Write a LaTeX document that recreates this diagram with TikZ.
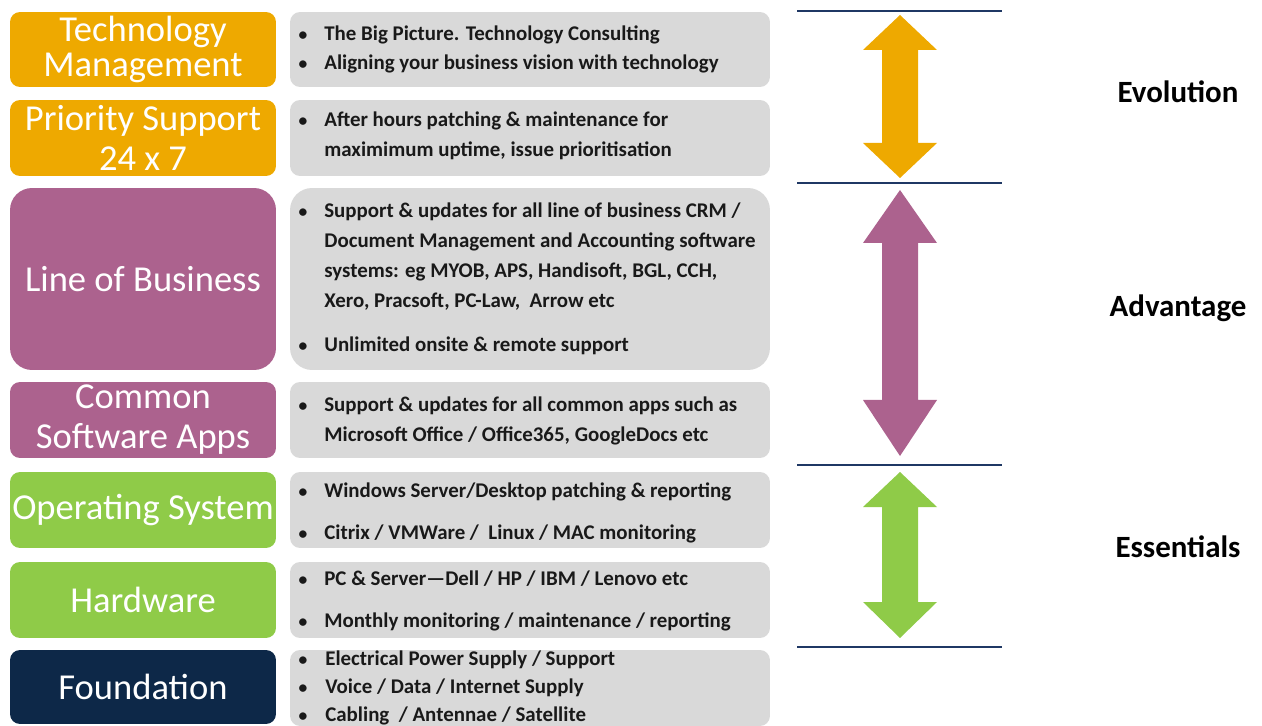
\documentclass[tikz,border=0pt]{standalone}
\usepackage{fontspec}
\setmainfont{Carlito}
\definecolor{cOrange}{RGB}{238,169,0}
\definecolor{cPurple}{RGB}{172,98,142}
\definecolor{cGreen}{RGB}{143,203,72}
\definecolor{cNavy}{RGB}{13,40,72}
\definecolor{cGray}{RGB}{217,217,217}
\definecolor{cLine}{RGB}{31,56,100}
\definecolor{cText}{RGB}{25,25,25}
\begin{document}
\begin{tikzpicture}[x=0.02cm,y=-0.02cm,
  lbox/.style={rounded corners=5.7pt, minimum width=5.32cm, align=center, text=white,
     font=\fontsize{20.8}{20.4}\selectfont, inner sep=0pt},
  gbox/.style={rounded corners=5.7pt, fill=cGray, minimum width=9.6cm, inner sep=0pt},
  txt/.style={anchor=mid west, inner sep=0pt, text=cText, font=\fontsize{11.9}{14}\selectfont\bfseries},
  bul/.style={anchor=mid, inner sep=0pt, text=cText, font=\fontsize{10}{12}\selectfont\bfseries},
  side/.style={inner sep=0pt, text=black, font=\fontsize{17.6}{20}\selectfont\bfseries},
  sep/.style={draw=cLine, line width=1.7pt}]
\useasboundingbox (0,0) rectangle (1262,726);

% left layer boxes
\node[lbox, fill=cOrange, minimum height=1.5cm] (tm) at (143,49.5) {Technology\\Management};
\node[lbox, fill=cOrange, minimum height=1.52cm, font=\fontsize{20.8}{23}\selectfont] (ps) at (143,138) {Priority Support\\24 x 7};
\node[lbox, fill=cPurple, minimum height=3.64cm, rounded corners=12.5pt] (lob) at (143,279) {Line of Business};
\node[lbox, fill=cPurple, minimum height=1.52cm, font=\fontsize{20.8}{22.7}\selectfont] (csa) at (143,420) {Common\\Software Apps};
\node[lbox, fill=cGreen, minimum height=1.52cm] (os) at (143,510) {Operating System};
\node[lbox, fill=cGreen, minimum height=1.52cm] (hw) at (143,600) {Hardware};
\node[lbox, fill=cNavy, minimum height=1.48cm] (fd) at (143,687) {Foundation};

% grey description boxes
\node[gbox, minimum height=1.5cm] (g1) at (530,49.5) {};
\node[gbox, minimum height=1.52cm] (g2) at (530,138) {};
\node[gbox, minimum height=3.64cm, rounded corners=12.5pt] (g3) at (530,279) {};
\node[gbox, minimum height=1.52cm] (g4) at (530,420) {};
\node[gbox, minimum height=1.52cm] (g5) at (530,510) {};
\node[gbox, minimum height=1.52cm] (g6) at (530,600) {};
\node[gbox, minimum height=1.52cm] (g7) at (530,688) {};

% bullets
\foreach \n/\y in {b1/36,b2/65,b3/122,b4/213,b5/347,b6/407,b7/493,b8/535,b9/581,b10/623,b11/661,b12/689,b13/717}
  \node[bul] (\n) at (303,\y) {•};

% text lines
\node[txt] (t1) at (324,36) {The Big Picture. Technology Consulting};
\node[txt] (t2) at (324,65) {Aligning your business vision with technology};
\node[txt] (t3) at (324,122) {After hours patching \& maintenance for};
\node[txt] (t4) at (324,152) {maximimum uptime, issue prioritisation};
\node[txt] (t5) at (324,213) {Support \& updates for all line of business CRM /};
\node[txt] (t6) at (324,243) {Document Management and Accounting software};
\node[txt] (t7) at (324,273) {systems: eg MYOB, APS, Handisoft, BGL, CCH,};
\node[txt] (t8) at (324,303) {Xero, Pracsoft, PC-Law,\ \ Arrow etc};
\node[txt] (t9) at (324,347) {Unlimited onsite \& remote support};
\node[txt] (t10) at (324,407) {Support \& updates for all common apps such as};
\node[txt] (t11) at (324,437) {Microsoft Office / Office365, GoogleDocs etc};
\node[txt] (t12) at (324,493) {Windows Server/Desktop patching \& reporting};
\node[txt] (t13) at (324,535) {Citrix / VMWare /\ \ Linux / MAC monitoring};
\node[txt] (t14) at (324,581) {PC \& Server—Dell / HP / IBM / Lenovo etc};
\node[txt] (t15) at (324,623) {Monthly monitoring / maintenance / reporting};
\node[txt] (t16) at (325,661) {Electrical Power Supply / Support};
\node[txt] (t17) at (325,689) {Voice / Data / Internet Supply};
\node[txt] (t18) at (325,717) {Cabling\ \ / Antennae / Satellite};

% separator lines
\foreach \n/\y in {1/11,2/183,3/465,4/647} {
  \coordinate (sl\n) at (797,\y);
  \coordinate (sr\n) at (1002,\y);
  \draw[sep] (sl\n) -- (sr\n);
}

% double arrows
\newcommand\dblarrow[5]{%
  \fill[#1] (900,#2) -- (937,{#2+#4}) -- (918,{#2+#4}) -- (918,{#3-#5}) -- (937,{#3-#5})
    -- (900,#3) -- (863,{#3-#5}) -- (882,{#3-#5}) -- (882,{#2+#4}) -- (863,{#2+#4}) -- cycle;}
\dblarrow{cOrange}{15}{178}{35}{35}
\dblarrow{cPurple}{190}{456}{53}{56}
\dblarrow{cGreen}{472}{638}{35}{36}

% side labels
\node[side] (evo) at (1178,92) {Evolution};
\node[side] (adv) at (1178,308) {Advantage};
\node[side] (ess) at (1178,547) {Essentials};
\end{tikzpicture}
\end{document}
